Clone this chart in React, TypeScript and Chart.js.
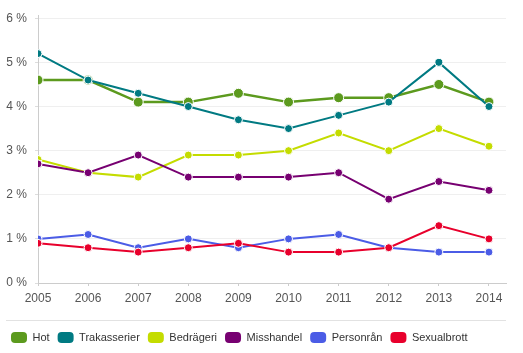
import React, { useEffect, useRef } from "react";
import { Chart, registerables } from "chart.js";

Chart.register(...registerables);

const years = [2005, 2006, 2007, 2008, 2009, 2010, 2011, 2012, 2013, 2014];
const yTicks = [0, 1, 2, 3, 4, 5, 6];

const seriesNames = ["Hot", "Trakasserier", "Bedrägeri", "Misshandel", "Personrån", "Sexualbrott"];
const seriesColors = ["#5c9a1e", "#007a82", "#c4dc00", "#770071", "#4b5ce6", "#e8002c"];

const hot = [4.6, 4.6, 4.1, 4.1, 4.3, 4.1, 4.2, 4.2, 4.5, 4.1];
const trakasserier = [5.2, 4.6, 4.3, 4.0, 3.7, 3.5, 3.8, 4.1, 5.0, 4.0];
const bedrageri = [2.8, 2.5, 2.4, 2.9, 2.9, 3.0, 3.4, 3.0, 3.5, 3.1];
const misshandel = [2.7, 2.5, 2.9, 2.4, 2.4, 2.4, 2.5, 1.9, 2.3, 2.1];
const personran = [1.0, 1.1, 0.8, 1.0, 0.8, 1.0, 1.1, 0.8, 0.7, 0.7];
const sexualbrott = [0.9, 0.8, 0.7, 0.8, 0.9, 0.7, 0.7, 0.8, 1.3, 1.0];

const seriesValues = [hot, trakasserier, bedrageri, misshandel, personran, sexualbrott];

const FONT = "'Liberation Sans', Arial, Helvetica, sans-serif";

export default function App() {
  const ref = useRef<HTMLCanvasElement | null>(null);

  useEffect(() => {
    if (!ref.current) return;
    const n = seriesNames.length;
    const datasets = seriesNames.map((name, i) => ({
      label: name,
      data: years.map((y, j) => ({ x: y, y: seriesValues[i][j] })),
      borderColor: seriesColors[i],
      backgroundColor: seriesColors[i],
      borderWidth: i === 0 ? 2.5 : 2,
      pointRadius: i === 0 ? 5 : 4,
      pointBorderColor: "#ffffff",
      pointBorderWidth: 1,
      pointBackgroundColor: seriesColors[i],
      tension: 0,
      order: n - i,
    }));

    const decor = {
      id: "decor",
      afterDraw(chart: any) {
        const ctx = chart.ctx;
        ctx.save();
        ctx.strokeStyle = "#e2e2e2";
        ctx.lineWidth = 1;
        ctx.beginPath();
        ctx.moveTo(6, 320.5);
        ctx.lineTo(chart.chartArea.right, 320.5);
        ctx.stroke();
        ctx.restore();
      },
    };

    const chart = new Chart(ref.current, {
      type: "line",
      data: { datasets },
      plugins: [decor],
      options: {
        animation: false,
        responsive: false,
        layout: { padding: { left: 3, right: 17, top: 14, bottom: 0 } },
        scales: {
          x: {
            type: "linear",
            min: years[0],
            max: years[years.length - 1] + 0.34,
            afterBuildTicks: (s: any) => {
              s.ticks = years.map((v) => ({ value: v }));
            },
            afterFit: (s: any) => {
              s.height = 41;
            },
            ticks: {
              callback: (v: any) => String(v),
              color: "#555",
              font: { family: FONT, size: 12 },
              padding: 5,
              maxRotation: 0,
              autoSkip: false,
            },
            grid: {
              drawOnChartArea: false,
              drawTicks: true,
              tickLength: 3,
              color: "#cccccc",
            },
            border: { color: "#cccccc", width: 1 },
          },
          y: {
            type: "linear",
            min: 0,
            max: 6.07,
            afterBuildTicks: (s: any) => {
              s.ticks = yTicks.map((v) => ({ value: v }));
            },
            afterFit: (s: any) => {
              s.width = 35;
            },
            ticks: {
              callback: (v: any) => v + " %",
              color: "#555",
              font: { family: FONT, size: 12 },
              padding: 8,
            },
            grid: {
              color: "#efefef",
              tickColor: "#dddddd",
              tickLength: 3,
            },
            border: { color: "#cccccc", width: 1 },
          },
        },
        plugins: {
          tooltip: { enabled: false },
          legend: {
            position: "bottom",
            align: "start",
            labels: {
              boxWidth: 16,
              boxHeight: 11,
              padding: 8,
              color: "#333",
              font: { family: FONT, size: 11 },
              useBorderRadius: true,
              borderRadius: 4,
              sort: (a: any, b: any) => a.datasetIndex - b.datasetIndex,
              generateLabels: (c: any) =>
                Chart.defaults.plugins.legend.labels.generateLabels(c).map((it: any) => ({
                  ...it,
                  lineWidth: 0,
                })),
            },
          },
        },
      },
    });
    return () => chart.destroy();
  }, []);

  return (
    <div style={{ position: "absolute", left: 0, top: 0, width: 523, height: 353 }}>
      <canvas ref={ref} width={523} height={353} style={{ display: "block" }} />
    </div>
  );
}
